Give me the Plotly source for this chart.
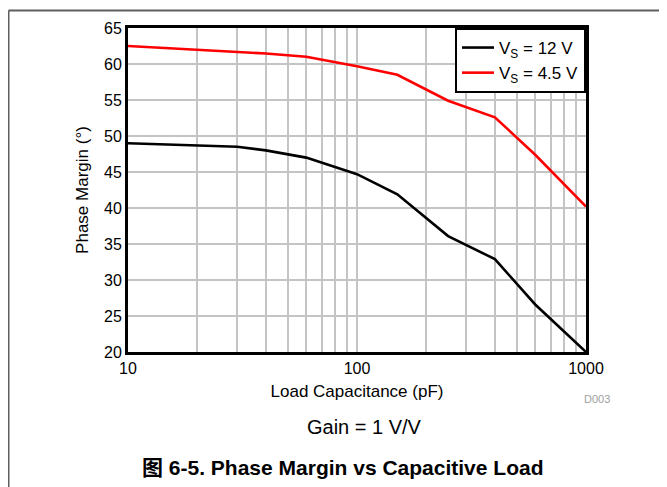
import plotly.graph_objects as go

# ---- data ----
cap_pf = [10, 30, 40, 60, 100, 150, 250, 400, 600, 1000]
pm_vs_12 = [49.0, 48.5, 48.0, 47.0, 44.7, 41.9, 36.1, 32.9, 26.6, 20.0]
pm_vs_4p5 = [62.5, 61.7, 61.45, 61.0, 59.7, 58.5, 54.9, 52.6, 47.4, 40.2]

x_major_ticks = [10, 100, 1000]
x_major_labels = ["10", "100", "1000"]
x_minor_ticks = [20, 30, 40, 50, 60, 70, 80, 90, 200, 300, 400, 500, 600, 700, 800, 900]
y_ticks = [20, 25, 30, 35, 40, 45, 50, 55, 60, 65]

series_names = ["V<sub>S</sub> = 12 V", "V<sub>S</sub> = 4.5 V"]

FONT = "Liberation Sans, Arial, Noto Sans CJK SC, sans-serif"

fig = go.Figure()
fig.add_trace(go.Scatter(x=cap_pf, y=pm_vs_12, mode="lines", name=series_names[0],
                         line=dict(color="black", width=2.6)))
fig.add_trace(go.Scatter(x=cap_pf, y=pm_vs_4p5, mode="lines", name=series_names[1],
                         line=dict(color="#ff0000", width=2.6)))

# page has an 8px body margin; figure coordinates are page coordinates minus 8
OFF = 8
W, H = 667 - OFF, 487 - OFF
L, R, T, B = 128 - OFF, 81, 26 - OFF, 135
pw, ph = W - L - R, H - T - B


def px(xp):
    # page x -> paper fraction
    return (xp - OFF - L) / pw


def py(yp):
    # page y -> paper fraction
    return (H - B - (yp - OFF)) / ph


fig.update_layout(
    width=W, height=H, autosize=False,
    margin=dict(l=L, r=R, t=T, b=B, pad=0),
    paper_bgcolor="white", plot_bgcolor="white",
    font=dict(family=FONT, size=16, color="black"),
    showlegend=True,
    legend=dict(x=1, xanchor="right", y=1, yanchor="top",
                bgcolor="white", bordercolor="black", borderwidth=2,
                font=dict(size=17), tracegroupgap=0, itemwidth=32),
    xaxis=dict(
        type="log", range=[1, 3],
        tickvals=x_major_ticks, ticktext=x_major_labels,
        ticks="", showgrid=True, gridcolor="#c4c4c4", gridwidth=1.5,
        minor=dict(tickvals=x_minor_ticks, showgrid=True, gridcolor="#c4c4c4", gridwidth=1.5, ticks=""),
        showline=True, linecolor="black", linewidth=3, mirror=True,
        zeroline=False,
        tickfont=dict(size=16),
        title=dict(text="Load Capacitance (pF)", font=dict(size=17), standoff=9),
    ),
    yaxis=dict(
        range=[20, 65], tickvals=y_ticks,
        ticks="", showgrid=True, gridcolor="#c4c4c4", gridwidth=1.5,
        showline=True, linecolor="black", linewidth=3, mirror=True,
        zeroline=False,
        tickfont=dict(size=16),
        title=dict(text="Phase Margin (°)", font=dict(size=17), standoff=12),
    ),
    shapes=[
        dict(type="line", xref="paper", yref="paper",
             x0=px(8.5), x1=px(8.5), y0=py(8.5), y1=py(500),
             line=dict(color="#5f5f5f", width=2)),
        dict(type="line", xref="paper", yref="paper",
             x0=px(8.5), x1=px(680), y0=py(8.5), y1=py(8.5),
             line=dict(color="#5f5f5f", width=2)),
    ],
    annotations=[
        dict(text="D003", xref="paper", yref="paper", x=px(612), y=py(399),
             xanchor="right", yanchor="middle", showarrow=False,
             font=dict(size=11, color="#a0a0a0")),
        dict(text="Gain = 1 V/V", xref="paper", yref="paper", x=px(364), y=py(427),
             xanchor="center", yanchor="middle", showarrow=False,
             font=dict(size=20, color="black")),
        dict(text="<b>图 6-5. Phase Margin vs Capacitive Load</b>", xref="paper", yref="paper",
             x=px(342.5), y=py(468), xanchor="center", yanchor="middle", showarrow=False,
             font=dict(size=21, color="black")),
    ],
)

fig.write_html("out.html")
